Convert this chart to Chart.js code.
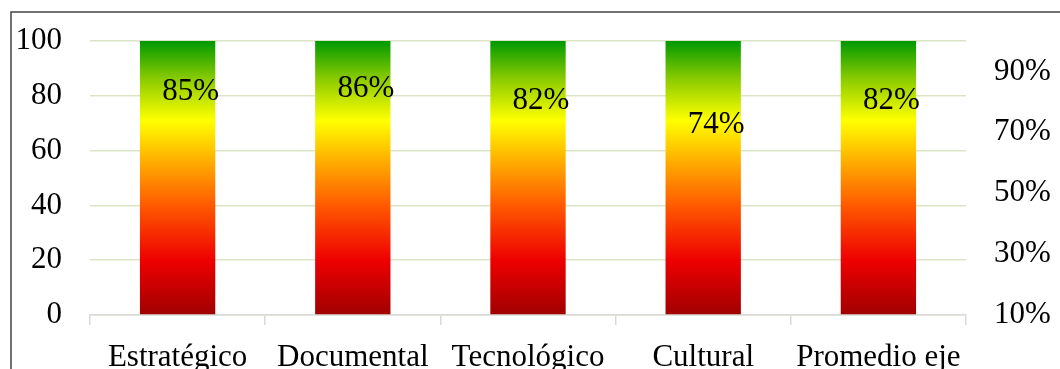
<!DOCTYPE html>
<html>
<head>
<meta charset="utf-8">
<script src="https://cdn.jsdelivr.net/npm/chart.js@4/dist/chart.umd.min.js"></script>
<style>
  html, body { margin: 0; padding: 0; background: #fff; }
  #wrap { width: 1060px; height: 369px; }
</style>
</head>
<body>
<div id="wrap"><canvas id="chart" width="1060" height="369"></canvas></div>
<script>
'use strict';

const CATEGORIES = ['Estratégico', 'Documental', 'Tecnológico', 'Cultural', 'Promedio eje'];
const BAR_VALUES = [100, 100, 100, 100, 100];
const PERCENTS = [85, 86, 82, 74, 82];
const LEFT_TICKS = [0, 20, 40, 60, 80, 100];
const RIGHT_TICKS = [10, 30, 50, 70, 90];

const FAMILY = "'Liberation Serif', 'Times New Roman', serif";
const FONT = { family: FAMILY, size: 31 };
// small line height so the y labels don't push the plot area down
const YFONT = { family: FAMILY, size: 31, lineHeight: 0.5 };

function barGradient(ctx) {
  const area = ctx.chart.chartArea;
  if (!area) return '#ff0000';
  const g = ctx.chart.ctx.createLinearGradient(0, area.bottom, 0, area.top);
  g.addColorStop(0, '#a00000');
  g.addColorStop(0.2, '#ee0000');
  g.addColorStop(0.4, '#ff5a00');
  g.addColorStop(0.55, '#ffa800');
  g.addColorStop(0.71, '#ffff00');
  g.addColorStop(0.86, '#8ccc00');
  g.addColorStop(1, '#009900');
  return g;
}

// outer frame (cropped: only left and top edges visible)
const framePlugin = {
  id: 'frame',
  afterDraw(chart) {
    const c = chart.ctx;
    c.save();
    c.strokeStyle = '#444';
    c.lineWidth = 1.5;
    c.beginPath();
    c.moveTo(11, chart.height);
    c.lineTo(11, 12);
    c.lineTo(chart.width, 12);
    c.stroke();
    c.restore();
  }
};

// percent labels drawn at the line points
const labelPlugin = {
  id: 'pctLabels',
  afterDatasetsDraw(chart) {
    const meta = chart.getDatasetMeta(1);
    const c = chart.ctx;
    c.save();
    c.font = `${FONT.size}px ${FONT.family}`;
    c.fillStyle = '#000';
    c.textAlign = 'center';
    c.textBaseline = 'middle';
    meta.data.forEach((pt, i) => {
      c.fillText(PERCENTS[i] + '%', pt.x + 13, pt.y + 5);
    });
    c.restore();
  }
};

new Chart(document.getElementById('chart'), {
  data: {
    labels: CATEGORIES,
    datasets: [
      {
        type: 'bar',
        data: BAR_VALUES,
        yAxisID: 'y',
        backgroundColor: barGradient,
        borderWidth: 0,
        categoryPercentage: 1,
        barPercentage: 0.43,
        order: 2,
      },
      {
        type: 'line',
        data: PERCENTS,
        yAxisID: 'y1',
        showLine: false,
        pointRadius: 0,
        pointHoverRadius: 0,
        order: 1,
      },
    ],
  },
  options: {
    responsive: false,
    animation: false,
    events: [],
    layout: { autoPadding: false, padding: { top: 41, left: 0, right: 0, bottom: 0 } },
    plugins: { legend: { display: false }, tooltip: { enabled: false } },
    scales: {
      x: {
        afterFit: s => { s.height = 54; },
        grid: { offset: true, drawOnChartArea: false, tickLength: 10, color: '#d9d9d9', lineWidth: 1.5 },
        border: { color: '#d9d9d9', width: 1.5 },
        ticks: { color: '#000', font: FONT, padding: 14, maxRotation: 0, autoSkip: false },
      },
      y: {
        position: 'left',
        min: 0,
        max: 100,
        afterFit: s => { s.width = 90; },
        afterBuildTicks: s => { s.ticks = LEFT_TICKS.map(v => ({ value: v })); },
        grid: { color: '#dbe5c6', lineWidth: 1.5, drawTicks: false },
        border: { display: false },
        ticks: { color: '#000', font: YFONT, padding: 28 },
      },
      y1: {
        position: 'right',
        min: 10,
        max: 100,
        afterFit: s => { s.width = 94; },
        afterBuildTicks: s => { s.ticks = RIGHT_TICKS.map(v => ({ value: v })); },
        grid: { display: false, drawTicks: false },
        border: { display: false },
        ticks: { color: '#000', font: YFONT, padding: 28, callback: v => v + '%' },
      },
    },
  },
  plugins: [framePlugin, labelPlugin],
});
</script>
</body>
</html>
